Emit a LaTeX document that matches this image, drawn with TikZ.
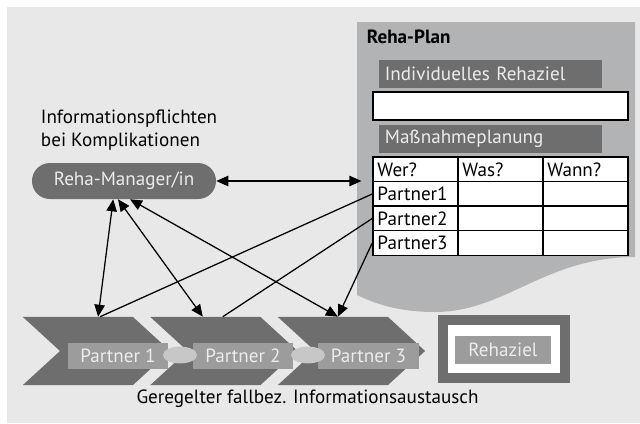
\documentclass[tikz,border=0pt]{standalone}
\usepackage{fontspec}
\setmainfont{PT Sans}
\usetikzlibrary{
  arrows.meta,
  shapes.geometric,
  shapes.symbols
}
\definecolor{paper}{RGB}{232,232,232}
\definecolor{plangray}{RGB}{178,179,180}
\definecolor{darkgray}{RGB}{110,110,110}
\definecolor{midgray}{RGB}{156,156,156}
\definecolor{ovalgray}{RGB}{198,200,199}
\definecolor{lighttext}{RGB}{236,236,236}
\newcommand{\basefont}{\fontsize{13.6}{16}\selectfont}
\tikzset{
  >={Triangle[length=3.0mm,width=2.6mm]},
  link/.style={line width=0.9pt,draw=black},
  bar/.style={
    fill=darkgray,
    text=lighttext,
    minimum width=5.58cm,
    minimum height=0.7cm,
    text width=5.28cm,
    inner xsep=0.15cm,
    inner ysep=0pt,
    align=left
  },
  cell/.style={
    draw=black,
    line width=1.1pt,
    fill=white,
    minimum width=2.125cm,
    minimum height=0.615cm,
    text width=1.9cm,
    inner xsep=0.11cm,
    inner ysep=0pt,
    align=left
  },
  chevron/.style={
    shape=signal,
    signal from=west,
    signal to=east,
    signal pointer angle=85,
    fill=darkgray,
    minimum width=3.68cm,
    minimum height=1.7cm,
    inner sep=0pt
  },
  partnerbox/.style={
    fill=midgray,
    text=lighttext,
    minimum width=2.5cm,
    minimum height=0.65cm,
    inner sep=0pt
  },
  link oval/.style={
    ellipse,
    fill=ovalgray,
    minimum width=0.85cm,
    minimum height=0.42cm,
    inner sep=0pt
  }
}

\begin{document}
\begin{tikzpicture}[x=0.025cm,y=-0.025cm,font=\basefont]
  \useasboundingbox (0,0) rectangle (640,423);
  \fill[paper] (7,7) rectangle (640,423);

  % Reha-Plan sheet
  \fill[plangray] (357,22) -- (635,22) -- (635,257)
    .. controls (545,257) and (505,312) .. (435,312)
    .. controls (395,312) and (372,302) .. (357,295) -- cycle;
  \node[anchor=west,font=\basefont\bfseries] (plan) at (362,37) {Reha-Plan};
  \node[bar] (ziel) at (490.5,74) {Individuelles Rehaziel};
  \node[draw=black,line width=1.1pt,fill=white,minimum width=6.375cm,
    minimum height=0.7cm] (zielfeld) at (500.5,106) {};
  \node[bar] (massnahme) at (490.5,139) {Maßnahmeplanung};

  \foreach \y/\wer/\was/\wann [count=\i] in
    {169.5/Wer?/Was?/Wann?, 194/Partner1//, 218.5/Partner2//, 243/Partner3//} {
    \node[cell] (t-\i-1) at (415.5,\y) {\wer};
    \node[cell] (t-\i-2) at (500.5,\y) {\was};
    \node[cell] (t-\i-3) at (585.5,\y) {\wann};
  }
  \coordinate (plan-in) at ([xshift=-0.27cm]t-1-1.west);

  % manager
  \node[align=left,anchor=west] (info) at (36,130)
    {Informationspflichten\\bei Komplikationen};
  \node[fill=darkgray,text=lighttext,rounded corners=0.45cm,
    minimum width=4.6cm,minimum height=0.9cm] (mgr) at (124,181) {Reha-Manager/in};

  % partner chain
  \foreach \x [count=\i] in {96.5,224,351.5}
    \node[chevron] (ch\i) at (\x,351) {};
  \foreach \x [count=\i] in {118,243,368.5}
    \node[partnerbox] (p\i) at (\x,356) {Partner \i};
  \node[link oval] (o1) at (180,355) {};
  \node[link oval] (o2) at (308,355) {};
  \node (austausch) at (307.5,399) {Geregelter fallbez. Informationsaustausch};

  % goal
  \node[draw=darkgray,line width=0.25cm,fill=white,minimum width=3.05cm,
    minimum height=1.45cm] (goal) at (504,349) {};
  \node[partnerbox,minimum width=2.4cm,minimum height=0.7cm] (goaltext)
    at (503,350) {Rehaziel};

  % connectors
  \draw[link,<->] (mgr.east) -- (plan-in |- mgr.east);
  \draw[link] (t-2-1.west) -- ([xshift=0.09cm]ch1.north);
  \draw[link] (t-3-1.west) -- ([xshift=-0.03cm]ch2.north);
  \draw[link,->] (t-4-1.west) -- ([xshift=-0.34cm]ch3.north);
  \draw[link,<->] ([xshift=-0.27cm]mgr.south) -- ([xshift=0.04cm]ch1.north);
  \draw[link,<->] ([xshift=-0.15cm]mgr.south) -- ([xshift=-0.53cm]ch2.north);
  \draw[link,<->] ([xshift=0.15cm]mgr.south) -- ([xshift=-0.34cm]ch3.north);
\end{tikzpicture}
\end{document}
